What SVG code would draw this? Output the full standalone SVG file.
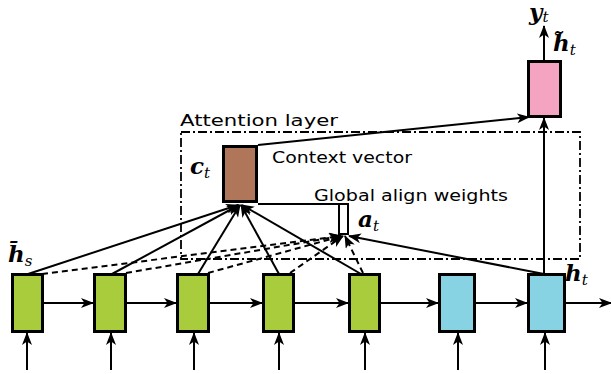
<svg xmlns="http://www.w3.org/2000/svg" width="611" height="374" viewBox="0 0 611 374">
  <style>
    .cell { stroke: #000; stroke-width: 3; }
    .src { fill: #a8cc3c; }
    .tgt { fill: #88d3e3; }
    .ctx { fill: #b0765a; }
    .out { fill: #f4a4c0; }
    .ln { stroke: #000; stroke-width: 2; fill: none; }
    .dash { stroke-dasharray: 6 4; }
    .frame { stroke: #000; stroke-width: 1.8; fill: none; stroke-dasharray: 9 3 2 3; }
    .lbl { font-family: "DejaVu Sans", "Liberation Sans", sans-serif; font-size: 15px; fill: #000; }
    .math { font-family: "DejaVu Serif", "Liberation Serif", serif; font-style: italic; font-weight: bold; font-size: 23px; fill: #000; }
    .sub { font-family: "DejaVu Serif", "Liberation Serif", serif; font-style: italic; font-weight: normal; font-size: 15px; }
  </style>
  <defs>
    <marker id="arrow" markerUnits="userSpaceOnUse" markerWidth="13" markerHeight="10" refX="12" refY="5" orient="auto">
      <path d="M0,0 L13,5 L0,10 L3.5,5 z" fill="#000"/>
    </marker>
  </defs>

  <!-- attention layer frame -->
  <g id="attention-layer">
    <rect class="frame" x="181" y="132" width="399" height="127"/>
    <text class="lbl" x="180" y="126" textLength="158" lengthAdjust="spacingAndGlyphs">Attention layer</text>
  </g>

  <!-- connectors -->
  <g id="connectors">
    <!-- recurrent links along the sequence -->
    <line class="ln" x1="44" y1="303" x2="93" y2="303" marker-end="url(#arrow)"/>
    <line class="ln" x1="127" y1="303" x2="176" y2="303" marker-end="url(#arrow)"/>
    <line class="ln" x1="210" y1="303" x2="262" y2="303" marker-end="url(#arrow)"/>
    <line class="ln" x1="295" y1="303" x2="348" y2="303" marker-end="url(#arrow)"/>
    <line class="ln" x1="381" y1="303" x2="438" y2="303" marker-end="url(#arrow)"/>
    <line class="ln" x1="476" y1="303" x2="527" y2="303" marker-end="url(#arrow)"/>
    <line class="ln" x1="566" y1="303" x2="611" y2="303" marker-end="url(#arrow)"/>
    <!-- inputs -->
    <line class="ln" x1="27" y1="370" x2="27" y2="333" marker-end="url(#arrow)"/>
    <line class="ln" x1="111" y1="370" x2="111" y2="333" marker-end="url(#arrow)"/>
    <line class="ln" x1="194" y1="370" x2="194" y2="333" marker-end="url(#arrow)"/>
    <line class="ln" x1="279" y1="370" x2="279" y2="333" marker-end="url(#arrow)"/>
    <line class="ln" x1="365" y1="370" x2="365" y2="333" marker-end="url(#arrow)"/>
    <line class="ln" x1="458" y1="370" x2="458" y2="333" marker-end="url(#arrow)"/>
    <line class="ln" x1="545" y1="370" x2="545" y2="333" marker-end="url(#arrow)"/>
    <!-- source states into the context vector -->
    <line class="ln" x1="28" y1="274" x2="238" y2="205" marker-end="url(#arrow)"/>
    <line class="ln" x1="112" y1="274" x2="239" y2="205" marker-end="url(#arrow)"/>
    <line class="ln" x1="198" y1="274" x2="240" y2="205" marker-end="url(#arrow)"/>
    <line class="ln" x1="279" y1="274" x2="241" y2="205" marker-end="url(#arrow)"/>
    <line class="ln" x1="361" y1="274" x2="242" y2="205" marker-end="url(#arrow)"/>
    <!-- source states into the align weights -->
    <line class="ln dash" x1="42" y1="274" x2="341" y2="236" marker-end="url(#arrow)"/>
    <line class="ln dash" x1="126" y1="273" x2="341" y2="236" marker-end="url(#arrow)"/>
    <line class="ln dash" x1="208" y1="273" x2="342" y2="236" marker-end="url(#arrow)"/>
    <line class="ln dash" x1="290" y1="273" x2="343" y2="236" marker-end="url(#arrow)"/>
    <line class="ln dash" x1="363" y1="273" x2="345" y2="236" marker-end="url(#arrow)"/>
    <!-- target state into the align weights -->
    <line class="ln" x1="544" y1="274" x2="349" y2="236" marker-end="url(#arrow)"/>
    <!-- weights to context vector -->
    <polyline class="ln" points="258,204 339,204 339,234 348,234 348,204 339,204"/>
    <!-- attentional hidden state -->
    <line class="ln" x1="544" y1="273" x2="544" y2="118" marker-end="url(#arrow)"/>
    <line class="ln" x1="258" y1="145" x2="529" y2="117" marker-end="url(#arrow)"/>
    <line class="ln" x1="544" y1="60" x2="544" y2="26" marker-end="url(#arrow)"/>
  </g>

  <!-- source hidden states -->
  <g id="src-1"><rect class="cell src" x="12.5" y="274.5" width="30" height="57"/></g>
  <g id="src-2"><rect class="cell src" x="94.5" y="274.5" width="31" height="57"/></g>
  <g id="src-3"><rect class="cell src" x="177.5" y="274.5" width="31" height="57"/></g>
  <g id="src-4"><rect class="cell src" x="263.5" y="274.5" width="30" height="57"/></g>
  <g id="src-5"><rect class="cell src" x="349.5" y="274.5" width="30" height="57"/></g>

  <!-- target hidden states -->
  <g id="tgt-1"><rect class="cell tgt" x="439.5" y="274.5" width="35" height="57"/></g>
  <g id="tgt-2"><rect class="cell tgt" x="528.5" y="274.5" width="36" height="57"/></g>

  <!-- context vector -->
  <g id="context">
    <rect class="cell ctx" x="223.5" y="146.5" width="33" height="55"/>
    <text class="lbl" x="272" y="163" textLength="140" lengthAdjust="spacingAndGlyphs">Context vector</text>
    <text class="math" x="190" y="174">c<tspan class="sub" dy="4">t</tspan></text>
  </g>

  <!-- align weights -->
  <g id="align-weights">
    <text class="lbl" x="314" y="201" textLength="194" lengthAdjust="spacingAndGlyphs">Global align weights</text>
    <text class="math" x="358" y="227">a<tspan class="sub" dy="4">t</tspan></text>
  </g>

  <!-- attentional output -->
  <g id="output">
    <rect class="cell out" x="528.5" y="61.5" width="32" height="55"/>
    <text class="math" x="553" y="51">h̃<tspan class="sub" dy="4">t</tspan></text>
    <text class="math" x="529" y="20" font-size="16">y<tspan class="sub" font-size="11" dy="2">t</tspan></text>
  </g>

  <!-- state labels -->
  <text class="math" x="8" y="262">h̄<tspan class="sub" dy="4">s</tspan></text>
  <text class="math" x="565" y="281">h<tspan class="sub" dy="4">t</tspan></text>
</svg>
